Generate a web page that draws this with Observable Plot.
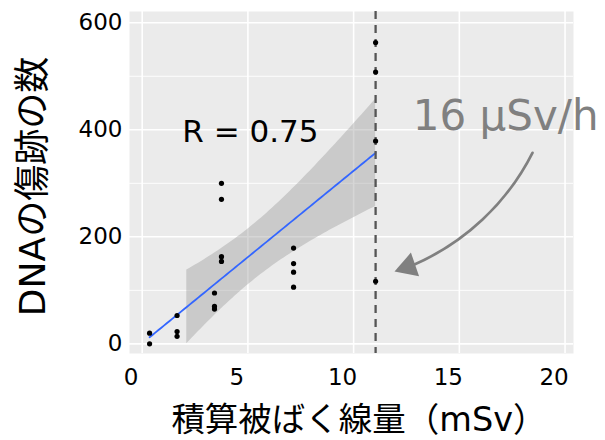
<!DOCTYPE html>
<html>
<head>
<meta charset="utf-8">
<script src="https://cdn.jsdelivr.net/npm/d3@7"></script>
<script src="https://cdn.jsdelivr.net/npm/@observablehq/plot@0.6"></script>
<style>
  html, body { margin: 0; padding: 0; background: white; }
</style>
</head>
<body>
<div id="chart"></div>
<script>
// ---- data ----
const dose   = [0.35, 0.35, 1.65, 1.65, 1.65, 3.42, 3.42, 3.42, 3.75, 3.75, 3.75, 3.75, 7.16, 7.16, 7.16, 7.16, 11.04, 11.04, 11.04, 11.04];
const damage = [20, 0, 53, 23, 14, 95, 70, 65, 300, 270, 163, 154, 179, 150, 134, 106, 563, 508, 379, 117];
const xTicks = [0, 5, 10, 15, 20];
const yTicks = [0, 200, 400, 600];
const yMinorTicks = [100, 300, 500];
const yLimits = [0, 600];
const threshold = [11.04];
const rLabel = ["R = 0.75"];
const doseRateLabel = ["16 μSv/h"];
const xTitle = "積算被ばく線量（mSv）";
const yTitle = "DNAの傷跡の数";

// ---- linear fit with 95% confidence band (like geom_smooth(method = "lm")) ----
const points = dose.map((d, i) => ({dose: d, damage: damage[i]}));
const n = dose.length;
const mx = d3.mean(dose), my = d3.mean(damage);
let sxx = 0, sxy = 0;
for (let i = 0; i < n; i++) { sxx += (dose[i] - mx) ** 2; sxy += (dose[i] - mx) * (damage[i] - my); }
const slope = sxy / sxx, icpt = my - slope * mx;
let sse = 0;
for (let i = 0; i < n; i++) sse += (damage[i] - (icpt + slope * dose[i])) ** 2;
const sres = Math.sqrt(sse / (n - 2));
const tq = 2.100922; // t quantile 0.975, df = 18
const [xmin, xmax] = d3.extent(dose);
const grid = d3.range(80).map(i => xmin + i * (xmax - xmin) / 79);
const fit = grid.map(x => {
  const yhat = icpt + slope * x;
  const se = sres * Math.sqrt(1 / n + (x - mx) ** 2 / sxx);
  return {dose: x, fit: yhat, lo: yhat - tq * se, hi: yhat + tq * se};
});
const band = fit.filter(d => d.lo >= yLimits[0] && d.hi <= yLimits[1]);
const fitLine = fit.filter(d => d.fit >= yLimits[0] && d.fit <= yLimits[1]);

// annotation arrow (start near the label, end beside the dashed line)
const arrowSpec = [{x1: 18.46, y1: 357, x2: 12.8, y2: 147}];
const arrowHead = [{x: 12.58, y: 144}];

const grey = "#808080";

const plot = Plot.plot({
  width: 605,
  height: 440,
  marginLeft: 129,
  marginRight: 32,
  marginTop: 11,
  marginBottom: 87,
  style: {fontFamily: "'DejaVu Sans', 'Noto Sans CJK JP', sans-serif", fontSize: "23px", color: "#000", background: "white"},
  x: {domain: [-0.6, 20.4], label: null},
  y: {domain: [-18, 621], label: null},
  marks: [
    Plot.frame({fill: "#EBEBEB", stroke: "none"}),
    Plot.gridY(yMinorTicks, {stroke: "white", strokeOpacity: 1, strokeWidth: 0.9}),
    Plot.gridY(yTicks, {stroke: "white", strokeOpacity: 1, strokeWidth: 1.6}),
    Plot.gridX(xTicks, {stroke: "white", strokeOpacity: 1, strokeWidth: 1.6}),
    Plot.axisY(yTicks, {tickSize: 0, tickPadding: 7, label: null, fontSize: 23, fill: "#000"}),
    Plot.axisX(xTicks, {tickSize: 0, tickPadding: 15, label: null, fontSize: 23, fill: "#000", dx: -11}),
    Plot.areaY(band, {x: "dose", y1: "lo", y2: "hi", fill: "#999999", fillOpacity: 0.4}),
    Plot.line(fitLine, {x: "dose", y: "fit", stroke: "#3366FF", strokeWidth: 1.8}),
    Plot.ruleX(threshold, {stroke: "#555555", strokeWidth: 2.3, strokeDasharray: "8,6"}),
    Plot.dot(points, {x: "dose", y: "damage", r: 2.6, fill: "black", stroke: "none"}),
    Plot.text(rLabel, {x: 5.12, y: 395, text: d => d, fontSize: 31, fill: "#000", textAnchor: "middle"}),
    Plot.text(doseRateLabel, {x: 12.8, y: 424, text: d => d, fontSize: 42, fill: grey, textAnchor: "start"}),
    Plot.arrow(arrowSpec, {x1: "x1", y1: "y1", x2: "x2", y2: "y2", bend: 20, headLength: 0, stroke: grey, strokeWidth: 2.7}),
    Plot.dot(arrowHead, {x: "x", y: "y", symbol: "triangle", r: 9.3, rotate: 251, fill: grey, stroke: "none"})
  ]
});

const svg = d3.select(plot);
svg.append("text")
  .attr("x", 359).attr("y", 431)
  .attr("text-anchor", "middle")
  .attr("font-size", 33.5)
  .attr("fill", "#000")
  .text(xTitle);
svg.append("text")
  .attr("transform", "translate(45,186.5) rotate(-90)")
  .attr("text-anchor", "middle")
  .attr("font-size", 36)
  .attr("fill", "#000")
  .text(yTitle);

document.getElementById("chart").appendChild(plot);
</script>
</body>
</html>
